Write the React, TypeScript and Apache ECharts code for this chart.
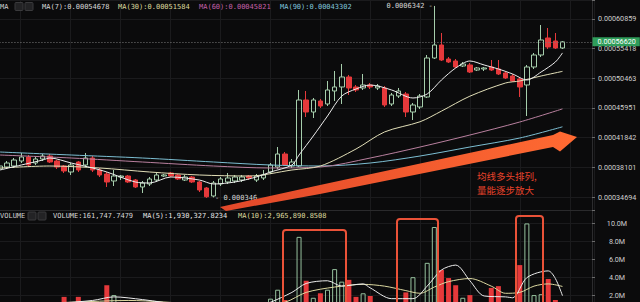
import { useEffect, useRef } from 'react';
import * as echarts from 'echarts';

// Right-hand price scale: log-spaced tick labels, bottom to top
const priceTickLabels = ['0.00034694', '0.00038101', '0.00041842', '0.00045951', '0.00050463', '0.00055418', '0.00060859'];

// Candles: [open, close, low, high]
const ohlc: number[][] = [
  [0.00037901, 0.00038261, 0.00037663, 0.00038504],
  [0.00038141, 0.00038625, 0.00037901, 0.0003887],
  [0.00038261, 0.00038993, 0.00038021, 0.0003924],
  [0.0003887, 0.00039364, 0.00038625, 0.00039864],
  [0.00039364, 0.00038382, 0.00038141, 0.00039613],
  [0.00038625, 0.00039116, 0.00038382, 0.00039364],
  [0.00039116, 0.00039488, 0.0003887, 0.00039738],
  [0.00039488, 0.00038747, 0.00038625, 0.00039738],
  [0.0003887, 0.00038141, 0.00037901, 0.00038993],
  [0.00038261, 0.00037663, 0.00037425, 0.00038382],
  [0.00037544, 0.00038382, 0.0003719, 0.00038625],
  [0.00038747, 0.00037782, 0.00037544, 0.0003887],
  [0.00038382, 0.0003924, 0.00038141, 0.00039864],
  [0.0003924, 0.00037782, 0.00037544, 0.00039488],
  [0.00037782, 0.0003719, 0.00036955, 0.00038021],
  [0.00037307, 0.00036377, 0.00035807, 0.00037544],
  [0.00036492, 0.00037072, 0.0003592, 0.00037782],
  [0.00036955, 0.00037072, 0.00036607, 0.0003719],
  [0.00037072, 0.00036377, 0.00036262, 0.0003719],
  [0.00036607, 0.00035807, 0.00035694, 0.00036723],
  [0.00035807, 0.00036262, 0.00035135, 0.00036492],
  [0.00036148, 0.00036723, 0.0003592, 0.00036955],
  [0.00036607, 0.0003719, 0.00036377, 0.00037425],
  [0.00037072, 0.0003719, 0.00036955, 0.00037307],
  [0.00037425, 0.00037072, 0.00036955, 0.00037544],
  [0.0003719, 0.00036723, 0.00036607, 0.00037307],
  [0.00036607, 0.00036955, 0.00036492, 0.0003719],
  [0.00036955, 0.00036377, 0.00036262, 0.00037072],
  [0.00036377, 0.0003547, 0.00035246, 0.00036492],
  [0.00035694, 0.0003472, 0.000346, 0.00035807],
  [0.00034804, 0.00036262, 0.0003465, 0.00036492],
  [0.00036148, 0.00036723, 0.0003592, 0.00036955],
  [0.00036377, 0.00036839, 0.00036148, 0.00037425],
  [0.00036492, 0.00036955, 0.00036262, 0.0003719],
  [0.00036607, 0.00036955, 0.00036377, 0.0003719],
  [0.00037072, 0.00036839, 0.00036607, 0.0003719],
  [0.00036607, 0.00037072, 0.00036377, 0.00037307],
  [0.00036839, 0.0003719, 0.00036607, 0.00037782],
  [0.00037544, 0.00038382, 0.00037307, 0.00038625],
  [0.00038141, 0.00039738, 0.00037901, 0.00040626],
  [0.00039738, 0.00038382, 0.00038261, 0.0003999],
  [0.00038261, 0.00038747, 0.00038021, 0.00039116],
  [0.00038261, 0.00047126, 0.00038141, 0.00048638],
  [0.00047126, 0.00045373, 0.00044662, 0.00048485],
  [0.00045373, 0.00047126, 0.00044522, 0.00047425],
  [0.00046978, 0.00046242, 0.00045951, 0.00047275],
  [0.00046535, 0.00048638, 0.00046242, 0.0005004],
  [0.00048485, 0.00049101, 0.00046978, 0.00051645],
  [0.00049101, 0.00050676, 0.00046535, 0.00052799],
  [0.00050676, 0.00048946, 0.00047876, 0.00050997],
  [0.00049101, 0.00048638, 0.00048332, 0.00049412],
  [0.00048946, 0.00049412, 0.00048638, 0.00051158],
  [0.00049412, 0.00049101, 0.00048792, 0.00049725],
  [0.00048946, 0.00049256, 0.00048638, 0.00049568],
  [0.00048946, 0.00046388, 0.00046096, 0.00049256],
  [0.00046535, 0.00047876, 0.00046242, 0.0004818],
  [0.00047725, 0.00048485, 0.00047425, 0.00048946],
  [0.00048028, 0.00045373, 0.00044662, 0.00048332],
  [0.00045373, 0.00046388, 0.00044241, 0.00046682],
  [0.00046096, 0.00047725, 0.00045805, 0.00048028],
  [0.00047575, 0.00053809, 0.00047425, 0.00054321],
  [0.00053809, 0.00056064, 0.00053639, 0.0006342],
  [0.00056064, 0.0005347, 0.00053302, 0.00058228],
  [0.00053639, 0.00053134, 0.00052966, 0.00053979],
  [0.00053302, 0.00052301, 0.00052136, 0.00053639],
  [0.00052467, 0.000528, 0.00052301, 0.00053134],
  [0.00052633, 0.00051482, 0.0005132, 0.00052966],
  [0.00051808, 0.00052136, 0.00051645, 0.00052301],
  [0.00051972, 0.00052136, 0.00051645, 0.00052301],
  [0.00052301, 0.00051808, 0.00051645, 0.0005347],
  [0.00051972, 0.00051158, 0.00050997, 0.0005347],
  [0.0005132, 0.00050516, 0.00050357, 0.00051645],
  [0.00050836, 0.0005004, 0.00049882, 0.00051158],
  [0.00050357, 0.00049101, 0.00047575, 0.00050676],
  [0.00049412, 0.00052301, 0.00044803, 0.00052633],
  [0.00052301, 0.00054321, 0.00051972, 0.00054665],
  [0.00054321, 0.00056956, 0.00053979, 0.00059718],
  [0.00057316, 0.00055711, 0.0005536, 0.00059155],
  [0.00056776, 0.00055535, 0.0005536, 0.00058228],
  [0.00055535, 0.0005662, 0.0005536, 0.00056776],
];

// Traded volume per candle
const volumes = [
  600000, 500000, 700000, 900000, 800000, 500000, 600000, 900000, 1000000, 1800000,
  900000, 1800000, 1100000, 1000000, 900000, 3100000, 2000000, 600000, 900000, 1000000,
  1100000, 700000, 600000, 400000, 500000, 600000, 400000, 700000, 900000, 1100000,
  1000000, 600000, 800000, 500000, 600000, 400000, 700000, 900000, 1600000, 2600000,
  1450000, 1100000, 8500000, 3600000, 1700000, 2200000, 2600000, 4900000, 3500000, 3700000,
  1800000, 2200000, 1900000, 1000000, 1100000, 900000, 800000, 2300000, 4000000, 1100000,
  5600000, 9600000, 4800000, 3900000, 3100000, 1700000, 2000000, 900000, 1000000, 2800000,
  3000000, 900000, 900000, 5350000, 10000000, 2000000, 2100000, 3800000, 1450000, 161747.7479,
];

// Moving averages as [candle index, value]
const ma7Points = [
  [0, 0.00037782], [3, 0.00038382], [6, 0.00038993], [7, 0.0003924], [10, 0.00038625], [13, 0.00038021],
  [15, 0.00037544], [19, 0.00036377], [21, 0.00036262], [24, 0.00036955], [28, 0.00036607], [30, 0.00036148],
  [33, 0.00036377], [36, 0.00036955], [38, 0.00037544], [41, 0.00038382], [42, 0.00039613], [44, 0.00042062],
  [46, 0.00044803], [48, 0.00047725], [50, 0.00048792], [52, 0.00049412], [55, 0.00048638], [58, 0.00047425],
  [60, 0.00048028], [62, 0.00050198], [64, 0.00052136], [66, 0.00053302], [68, 0.00052633], [70, 0.00051972],
  [72, 0.00051158], [74, 0.00050198], [76, 0.00051482], [78, 0.00053134], [79, 0.00054678],
];
const ma30Points = [
  [0, 0.00038021], [7, 0.00038261], [14, 0.00038021], [21, 0.00037544], [28, 0.0003719], [35, 0.00037072],
  [41, 0.00037782], [45, 0.00038261], [50, 0.0004037], [54, 0.000426], [59, 0.00044], [62, 0.000455],
  [66, 0.000477], [71, 0.00049725], [73, 0.0005004], [76, 0.00050836], [79, 0.00051584],
];
const ma60Points = [
  [0, 0.00039613], [10, 0.0003924], [20, 0.00038747], [30, 0.00038261], [38, 0.00038021], [45, 0.00038141],
  [52, 0.0003924], [59, 0.00040626], [66, 0.00042195], [73, 0.00043963], [79, 0.00045821],
];
const ma90Points = [
  [0, 0.0003999], [10, 0.00039613], [20, 0.0003924], [30, 0.00038747], [38, 0.00038382], [45, 0.00038261],
  [52, 0.00038625], [59, 0.00039488], [66, 0.00040626], [73, 0.00041797], [79, 0.00043302],
];
const volMa5Points = [
  [0, 900000], [8, 1100000], [13, 1400000], [16, 1800000], [20, 1500000], [26, 900000], [32, 800000],
  [37, 1000000], [38, 1200000], [41, 2300000], [43, 3300000], [46, 3600000], [48, 3000000], [51, 3250000],
  [52, 2800000], [55, 1600000], [58, 1600000], [60, 3000000], [62, 4800000], [64, 5350000], [66, 3600000],
  [68, 1900000], [71, 1800000], [72, 1700000], [74, 3950000], [77, 4700000], [78, 3850000], [79, 1930327.8234],
];
const volMa10Points = [
  [0, 1000000], [10, 1200000], [18, 1400000], [28, 1000000], [36, 900000], [40, 1200000], [43, 2300000],
  [47, 2900000], [51, 3200000], [54, 3000000], [57, 2500000], [59, 2200000], [61, 2900000], [63, 3500000],
  [66, 3850000], [69, 3000000], [71, 2200000], [73, 2300000], [75, 3000000], [77, 3250000], [79, 2965890.8508],
];

const priceHeader = [
  { text: 'MA(7):0.00054678', x: 42, color: '#d8d8d8' },
  { text: 'MA(30):0.00051584', x: 118, color: '#dcd89c' },
  { text: 'MA(60):0.00045821', x: 199, color: '#c460a8' },
  { text: 'MA(90):0.00043302', x: 280, color: '#80c4dc' },
];
const volumeHeader = [
  { text: 'VOLUME:161,747.7479', x: 53, color: '#d8d8d8' },
  { text: 'MA(5):1,930,327.8234', x: 143, color: '#e4e4e4' },
  { text: 'MA(10):2,965,890.8508', x: 238, color: '#dcd89c' },
];
const noteLines = ['均线多头排列,', '量能逐步放大'];

const BG = '#0b0b0c';
const RED = '#e5393b';
const GREEN_LINE = '#a6ceac';
const GRID_LINE = '#1b1b1d';
const AXIS_TEXT = '#cfcfcf';
const MONO = '"DejaVu Sans Mono", monospace';
const SANS = 'Roboto, "Open Sans", sans-serif';

// Layout: 84 slots of 7.12px, price pane then volume pane
const SLOTS = 84;
const GRID_LEFT = -3.56;
const GRID_WIDTH = 598.08;
const AXIS_OFFSET = -2.52;

const tickLow = Number(priceTickLabels[0]);
const tickHigh = Number(priceTickLabels[priceTickLabels.length - 1]);
const logStep = Math.log(tickHigh / tickLow) / (priceTickLabels.length - 1);
const toAxis = (p: number) => Math.log(p / tickLow) / logStep;

function buildOption() {
  const slots = Array.from({ length: SLOTS }, (_, i) => String(i));
  const rising = ohlc.map(([o, c]) => c >= o);
  const highs = ohlc.map((r) => r[3]);
  const lows = ohlc.map((r) => r[2]);
  const hi = Math.max(...highs);
  const lo = Math.min(...lows);
  const hiIdx = highs.indexOf(hi);
  const loIdx = lows.indexOf(lo);
  const lastClose = ohlc[ohlc.length - 1][1];

  const hiddenAxis = {
    axisLine: { show: false },
    axisTick: { show: false },
    axisLabel: { show: false },
  };
  const gridLines = (gridIndex: number) => ({
    type: 'value',
    gridIndex,
    min: 26.44,
    max: 624.52,
    minInterval: 50,
    maxInterval: 50,
    splitNumber: 12,
    ...hiddenAxis,
    splitLine: { show: true, lineStyle: { color: GRID_LINE, width: 1 } },
  });
  const maLine = (name: string, pts: number[][], color: string, map: (v: number) => number, xi: number, yi: number) => ({
    name,
    type: 'line',
    xAxisIndex: xi,
    yAxisIndex: yi,
    data: pts.map(([i, v]) => [i, map(v)]),
    showSymbol: false,
    smooth: 0.3,
    silent: true,
    lineStyle: { color, width: 1 },
    z: 3,
  });
  const ident = (v: number) => v;

  const headerText = (text: string, x: number, y: number, color: string) => ({
    type: 'text',
    x,
    y,
    z: 30,
    style: { text, fill: color, fontSize: 7, fontFamily: MONO, verticalAlign: 'middle', align: 'left' },
  });
  const icon = (x: number, y: number) => ({
    type: 'rect',
    z: 30,
    shape: { x, y, width: 8, height: 8, r: 1 },
    style: { fill: '#232325', stroke: '#3a3a3c', lineWidth: 1 },
  });
  const frame = (x: number, y: number, w: number) => ({
    type: 'rect',
    z: 40,
    shape: { x, y, width: w, height: 100, r: 3 },
    style: { fill: 'none', stroke: '#ea5238', lineWidth: 2 },
  });

  return {
    animation: false,
    backgroundColor: BG,
    grid: [
      { left: GRID_LEFT, top: 0, width: GRID_WIDTH, height: 210, containLabel: false, outerBoundsMode: 'none' },
      { left: GRID_LEFT, top: 210, width: GRID_WIDTH, height: 103, containLabel: false, outerBoundsMode: 'none' },
    ],
    xAxis: [
      { type: 'category', gridIndex: 0, data: slots, boundaryGap: true, ...hiddenAxis, splitLine: { show: false } },
      gridLines(0),
      { type: 'category', gridIndex: 1, data: slots, boundaryGap: true, ...hiddenAxis, splitLine: { show: false } },
      gridLines(1),
    ],
    yAxis: [
      {
        type: 'value',
        gridIndex: 0,
        position: 'right',
        offset: AXIS_OFFSET,
        min: -0.4382,
        max: 6.6404,
        minInterval: 1,
        maxInterval: 1,
        splitNumber: 7,
        axisLine: { show: true, lineStyle: { color: '#2c2c2e', width: 1 } },
        axisTick: { show: true, length: 3, lineStyle: { color: '#6a6a6a' } },
        axisLabel: {
          show: true,
          margin: 6,
          color: AXIS_TEXT,
          fontSize: 7.2,
          fontFamily: SANS,
          formatter: (v: number) => {
            const k = Math.round(v);
            return Math.abs(v - k) < 1e-6 && priceTickLabels[k] ? priceTickLabels[k] : '';
          },
        },
        splitLine: { show: true, lineStyle: { color: GRID_LINE, width: 1 } },
      },
      {
        type: 'value',
        gridIndex: 1,
        position: 'right',
        offset: AXIS_OFFSET,
        min: 0,
        max: 11500000,
        interval: 2000000,
        axisLine: { show: true, lineStyle: { color: '#2c2c2e', width: 1 } },
        axisTick: { show: true, length: 3, lineStyle: { color: '#6a6a6a' } },
        axisLabel: {
          show: true,
          margin: 25,
          align: 'center',
          color: AXIS_TEXT,
          fontSize: 7.2,
          fontFamily: SANS,
          formatter: (v: number) =>
            v > 0 && v % 2000000 === 0 ? `${(v / 1000000).toFixed(1)}M` : '',
        },
        splitLine: { show: true, lineStyle: { color: GRID_LINE, width: 1 } },
      },
    ],
    series: [
      {
        name: 'price',
        type: 'candlestick',
        xAxisIndex: 0,
        yAxisIndex: 0,
        barWidth: 5,
        silent: true,
        data: ohlc.map((r) => r.map(toAxis)),
        itemStyle: {
          color: 'transparent',
          color0: RED,
          borderColor: GREEN_LINE,
          borderColor0: RED,
          borderWidth: 1,
        },
        markPoint: {
          silent: true,
          symbol: 'circle',
          symbolSize: 1,
          itemStyle: { color: 'transparent' },
          label: { show: true, color: '#d6d6d6', fontSize: 7, fontFamily: MONO },
          data: [
            { coord: [hiIdx, toAxis(hi)], label: { formatter: `${hi} -`, position: 'left', distance: 1 } },
            { coord: [loIdx, toAxis(lo)], label: { formatter: `- ${lo}`, position: 'right', distance: 8 } },
          ],
        },
        markLine: {
          silent: true,
          symbol: ['none', 'none'],
          lineStyle: { color: '#7c7c7c', type: [1, 2], width: 1 },
          label: {
            show: true,
            position: 'end',
            distance: -2,
            formatter: lastClose.toFixed(8),
            color: '#ffffff',
            backgroundColor: '#2f9d5a',
            padding: [1, 4, 1, 5],
            fontSize: 7.2,
            fontFamily: SANS,
          },
          data: [{ yAxis: toAxis(lastClose) }],
        },
      },
      maLine('MA90', ma90Points, '#7dbfd3', toAxis, 0, 0),
      maLine('MA60', ma60Points, '#b9809f', toAxis, 0, 0),
      maLine('MA30', ma30Points, '#e2dfb8', toAxis, 0, 0),
      maLine('MA7', ma7Points, '#ededed', toAxis, 0, 0),
      {
        name: 'volume',
        type: 'bar',
        xAxisIndex: 2,
        yAxisIndex: 1,
        barWidth: 5,
        silent: true,
        data: volumes.map((v, i) => ({
          value: v,
          itemStyle: rising[i]
            ? { color: 'transparent', borderColor: '#96c29e', borderWidth: 1 }
            : { color: RED },
        })),
      },
      maLine('VOL MA10', volMa10Points, '#dcd8a0', ident, 2, 1),
      maLine('VOL MA5', volMa5Points, '#ececec', ident, 2, 1),
    ],
    graphic: [
      // pane separator
      { type: 'line', z: 5, shape: { x1: 0, y1: 210.5, x2: 592, y2: 210.5 }, style: { stroke: '#2a2a2c', lineWidth: 1 } },
      headerText('MA', 0, 6.7, '#cfcfcf'),
      icon(15, 2.5),
      icon(25, 2.5),
      ...priceHeader.map((h) => headerText(h.text, h.x, 6.7, h.color)),
      headerText('VOLUME', 0, 216, '#cfcfcf'),
      icon(28, 212),
      icon(38, 212),
      ...volumeHeader.map((h) => headerText(h.text, h.x, 216, h.color)),
      // trend arrow
      {
        type: 'polygon',
        z: 20,
        shape: {
          points: [
            [220, 207], [320, 185], [553, 135], [560, 131.5], [577, 137], [560, 151.5], [553, 147], [320, 194], [226, 211],
          ],
        },
        style: {
          fill: new echarts.graphic.LinearGradient(0, 0, 1, 0, [
            { offset: 0, color: '#e2482a' },
            { offset: 1, color: '#ff6a32' },
          ]),
        },
      },
      ...noteLines.map((text, i) => ({
        type: 'text',
        z: 30,
        x: 477,
        y: 176 + i * 13.5,
        style: {
          text,
          fill: '#e8432b',
          fontSize: 9.5,
          fontFamily: '"Noto Sans CJK SC", sans-serif',
          align: 'left',
          verticalAlign: 'middle',
        },
      })),
      frame(283, 230, 63),
      frame(397, 219, 41),
      frame(516, 216, 27),
    ],
  };
}

export default function App() {
  const ref = useRef<HTMLDivElement>(null);
  useEffect(() => {
    if (!ref.current) return;
    const chart = echarts.init(ref.current, undefined, { renderer: 'svg' });
    chart.setOption(buildOption() as any);
    return () => chart.dispose();
  }, []);
  return (
    <div
      ref={ref}
      style={{ position: 'fixed', left: 0, top: 0, width: 640, height: 302, background: BG }}
    />
  );
}
